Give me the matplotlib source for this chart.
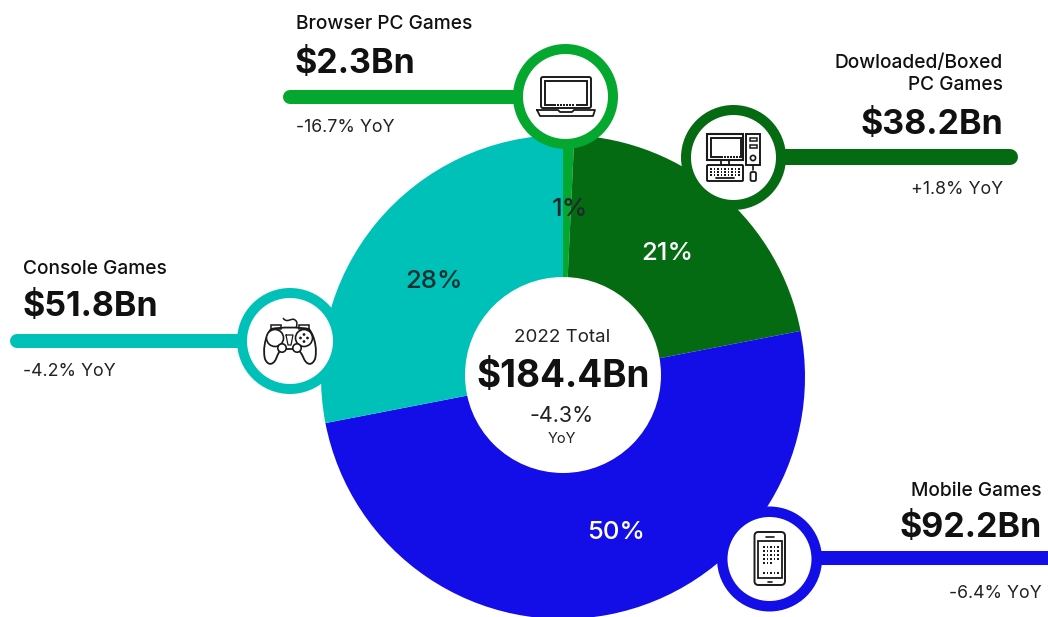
import matplotlib
matplotlib.use("Agg")
import matplotlib.pyplot as plt
from matplotlib.patches import Circle, FancyBboxPatch, PathPatch, Rectangle
from matplotlib.path import Path

W, H = 1048, 617
FONT = "Inter"

# Data (clockwise from 12 o'clock)
categories = ["Browser PC Games", "Dowloaded/Boxed\nPC Games", "Mobile Games", "Console Games"]
slice_shares = [0.75, 21.2, 50.0, 28.05]
share_labels = ["1%", "21%", "50%", "28%"]
revenues = ["$2.3Bn", "$38.2Bn", "$92.2Bn", "$51.8Bn"]
yoy_labels = ["-16.7% YoY", "+1.8% YoY", "-6.4% YoY", "-4.2% YoY"]
total_title = "2022 Total"
total_value = "$184.4Bn"
total_change = "-4.3%"
total_unit = "YoY"
colors = ["#04A82F", "#046B13", "#130DE8", "#00C1B8"]

fig = plt.figure(figsize=(W / 100, H / 100), dpi=100)
ax = fig.add_axes([0, 0, 1, 1])
ax.set_xlim(0, W)
ax.set_ylim(0, H)
ax.axis("off")


def Y(y):
    return H - y


def T(x, y, s, size, ha="left", va="center", weight="normal", color="#111111", z=20, **kw):
    ax.text(x, Y(y), s, fontsize=size, ha=ha, va=va, fontweight=weight, color=color,
            family=[FONT, "DejaVu Sans"], zorder=z, **kw)


# Pie
wedges, _ = ax.pie(slice_shares, colors=colors, startangle=90, counterclock=False,
                   center=(563, Y(377)), radius=242, frame=True, wedgeprops={"linewidth": 0})
ax.set_xlim(0, W)
ax.set_ylim(0, H)
ax.set_aspect("equal")
ax.axis("off")
ax.add_patch(Circle((563, Y(375)), 98, fc="white", ec="none", zorder=5))

# Slice labels
T(570, 209, share_labels[0], 18.5, ha="center", weight="medium", color="#1d2a2a")
T(667, 253, share_labels[1], 18.5, ha="center", weight="medium", color="white")
T(616, 532.5, share_labels[2], 18.5, ha="center", weight="medium", color="white")
T(434, 282, share_labels[3], 18.5, ha="center", weight="medium", color="#10302f")

# Centre
T(562, 338, total_title, 13.5, ha="center", color="#222222")
T(563, 377.5, total_value, 26.6, ha="center", weight="bold")
T(562, 416, total_change, 15.5, ha="center", color="#222222")
T(562, 439, total_unit, 10.5, ha="center", color="#222222")


def badge(cx, cy, R, r, color, x0, x1, ly, lw):
    ax.plot([x0, x1], [Y(ly), Y(ly)], color=color, lw=lw * 0.72, solid_capstyle="round", zorder=6)
    ax.add_patch(Circle((cx, Y(cy)), R, fc=color, ec="none", zorder=7))
    ax.add_patch(Circle((cx, Y(cy)), r, fc="white", ec="none", zorder=8))


badge(565.5, 96.5, 52.5, 42.5, colors[0], 290, 530, 97, 14)
badge(733.5, 157.5, 52.5, 42.5, colors[1], 780, 1010, 157, 16)
badge(769.5, 559, 52.5, 42, colors[2], 800, 1060, 558, 14)
badge(290, 341, 53, 43, colors[3], 17, 250, 341, 14)

# Callout texts
CAT = 13.8
YOY = 12.8
VAL = 24.5
T(296, 24, categories[0], CAT, weight="medium")
T(295, 64, revenues[0], VAL, weight="bold")
T(296, 128, yoy_labels[0], YOY, color="#222222")

T(1003, 74, categories[1], CAT, ha="right", weight="medium", linespacing=1.3, multialignment="right")
T(1003, 125, revenues[1], VAL, ha="right", weight="bold")
T(1003, 189, yoy_labels[1], YOY, ha="right", color="#222222")

T(1042, 491, categories[2], CAT, ha="right", weight="medium")
T(1042, 528, revenues[2], VAL, ha="right", weight="bold")
T(1042, 593, yoy_labels[2], YOY, ha="right", color="#222222")

T(23, 269, categories[3], CAT, weight="medium")
T(23, 307, revenues[3], VAL, weight="bold")
T(23, 372, yoy_labels[3], YOY, color="#222222")

# Icons
INK = "#1a1a1a"
Z = 12


def rect(x0, y0, x1, y1, lw=1.3, fc="none", rad=0.0, ec=INK):
    if rad:
        p = FancyBboxPatch((x0, Y(y1)), x1 - x0, y1 - y0, boxstyle=f"round,pad=0,rounding_size={rad}",
                           fc=fc, ec=ec, lw=lw, zorder=Z)
    else:
        p = Rectangle((x0, Y(y1)), x1 - x0, y1 - y0, fc=fc, ec=ec, lw=lw, zorder=Z)
    ax.add_patch(p)


def circ(x, y, r, lw=1.2, fc="white"):
    ax.add_patch(Circle((x, Y(y)), r, fc=fc, ec=INK, lw=lw, zorder=Z + 1))


def poly(pts, lw=1.2):
    ax.plot([p[0] for p in pts], [Y(p[1]) for p in pts], color=INK, lw=lw, zorder=Z,
            solid_joinstyle="round", solid_capstyle="round")


def dots(xs, ys, s=1.6):
    for y in ys:
        for x in xs:
            ax.add_patch(Rectangle((x - s / 2, Y(y) - s / 2), s, s, fc=INK, ec="none", zorder=Z))


def curve(verts, lw=1.3, fc="none"):
    codes = [Path.MOVETO] + [Path.CURVE4] * (len(verts) - 1)
    ax.add_patch(PathPatch(Path([(x, Y(y)) for x, y in verts], codes), fc=fc, ec=INK, lw=lw, zorder=Z))


# Laptop
rect(541, 77, 591, 108, lw=1.4, rad=2)
rect(545, 81, 587, 105, lw=1.4)
rect(556, 103.5, 576, 106.5, lw=0, fc="white", ec="white")
dots([558, 561, 564, 567, 570, 573], [105], 1.4)
poly([(537, 110), (558, 110), (560, 112), (572, 112), (574, 110), (595, 110), (593, 116), (540, 116), (537, 110)], lw=1.3)

# Desktop computer
rect(707, 134, 743, 160, lw=1.5)
rect(710.5, 138, 741, 157, lw=1.4)
rect(721, 155.5, 739, 158.5, lw=0, fc="white", ec="white")
dots([722, 725, 728, 731, 734, 737], [157], 1.3)
poly([(721, 160), (721, 165), (729, 165), (729, 160)], lw=1.3)
rect(707, 165, 743, 181, lw=1.4, rad=1)
dots([711, 714.5, 718, 721.5, 725, 728.5, 732, 735.5, 739], [169, 172, 175], 1.6)
poly([(716, 178), (734, 178)], lw=1.3)
rect(746, 134, 760, 165, lw=1.4)
rect(749.5, 138, 756.5, 141, lw=1.1)
rect(749.5, 145, 756.5, 148, lw=1.1)
circ(753, 158, 2.6, lw=1.2)
poly([(753, 165), (753, 170)], lw=1.2)
rect(750.5, 172, 756, 181, lw=1.3, rad=1.5)

# Gamepad
curve([(271, 329), (264, 338), (263, 352), (265, 359),
       (268, 366), (273, 365), (276, 359), (278, 354), (279, 351), (282, 349),
       (290, 349), (290, 349), (297, 349),
       (300, 351), (302, 354), (304, 359), (307, 365), (312, 366), (315, 359),
       (317, 352), (316, 338), (309, 329),
       (300, 327), (280, 327), (271, 329)], lw=1.3)
rect(271, 325, 281, 329, lw=1.1)
rect(299, 325, 309, 329, lw=1.1)
circ(275, 338, 8.5)
circ(304, 338, 8.5)
circ(282, 348, 4.2)
circ(297, 348, 4.2)
poly([(275, 334), (275, 342)], lw=1.3)
poly([(271, 338), (279, 338)], lw=1.3)
for dx, dy in [(0, -3.5), (0, 3.5), (-3.5, 0), (3.5, 0)]:
    circ(304 + dx, 338 + dy, 1.1, lw=0.4, fc=INK)
curve([(283, 318), (287, 324), (292, 317), (295, 320), (298, 322), (297, 325), (296, 328)], lw=1.1)
poly([(286, 335), (293, 335), (291, 345), (288, 345), (286, 335)], lw=0.9)

# Phone
rect(754.5, 532, 785, 585, lw=1.4, rad=4)
rect(758, 541, 782, 578, lw=1.3)
poly([(766, 536.5), (774, 536.5)], lw=1.2)
poly([(768, 581.5), (772, 581.5)], lw=1.2)
dots([764, 767.5, 771, 774.5, 778], [547, 551, 555, 559], 1.5)
dots([764, 767.5, 771], [563], 1.5)
dots([764, 767.5, 771, 774.5, 778], [573], 1.5)

fig.savefig("out.png", dpi=100)
